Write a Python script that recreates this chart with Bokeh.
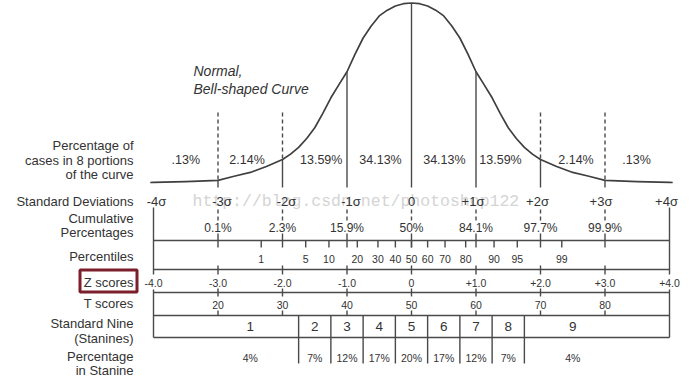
from bokeh.plotting import figure
from bokeh.models import Range1d, ColumnDataSource
from bokeh.core.properties import value
from bokeh.embed import file_html
from bokeh.resources import INLINE

# ---------------- data ----------------
# bell curve: relative height at z
curve_z = [-4.05, -4.0, -3.5, -3.0, -2.75, -2.5, -2.25, -2.0, -1.875, -1.75, -1.625, -1.5,
           -1.375, -1.25, -1.125, -1.0, -0.875, -0.75, -0.625, -0.5, -0.375, -0.25, -0.125,
           0.0,
           0.125, 0.25, 0.375, 0.5, 0.625, 0.75, 0.875, 1.0, 1.125, 1.25, 1.375, 1.5,
           1.625, 1.75, 1.875, 2.0, 2.25, 2.5, 2.75, 3.0, 3.5, 4.0, 4.05]
curve_h = [0.0, 0.001, 0.005, 0.012, 0.035, 0.056, 0.089, 0.128, 0.158, 0.196, 0.245, 0.305,
           0.385, 0.472, 0.545, 0.617, 0.715, 0.805, 0.872, 0.928, 0.960, 0.983, 0.996,
           1.0,
           0.996, 0.983, 0.960, 0.928, 0.872, 0.805, 0.715, 0.617, 0.545, 0.472, 0.385, 0.305,
           0.245, 0.196, 0.158, 0.128, 0.089, 0.056, 0.035, 0.012, 0.005, 0.001, 0.0]

sd_values = [-4, -3, -2, -1, 0, 1, 2, 3, 4]
sd_labels = ["-4σ", "-3σ", "-2σ", "-1σ", "0", "+1σ", "+2σ", "+3σ", "+4σ"]

portion_labels = [".13%", "2.14%", "13.59%", "34.13%", "34.13%", "13.59%", "2.14%", ".13%"]

cum_z = [-3, -2, -1, 0, 1, 2, 3]
cum_labels = ["0.1%", "2.3%", "15.9%", "50%", "84.1%", "97.7%", "99.9%"]

pct_labels = ["1", "5", "10", "20", "30", "40", "50", "60", "70", "80", "90", "95", "99"]
pct_z = [-2.33, -1.64, -1.28, -0.84, -0.52, -0.25, 0.0, 0.25, 0.52, 0.84, 1.28, 1.64, 2.33]

z_labels = ["-4.0", "-3.0", "-2.0", "-1.0", "0", "+1.0", "+2.0", "+3.0", "+4.0"]

t_z = [-3, -2, -1, 0, 1, 2, 3]
t_labels = ["20", "30", "40", "50", "60", "70", "80"]

stanine_edges = [-1.75, -1.25, -0.75, -0.25, 0.25, 0.75, 1.25, 1.75]
stanine_labels = ["1", "2", "3", "4", "5", "6", "7", "8", "9"]
stanine_pct = ["4%", "7%", "12%", "17%", "20%", "17%", "12%", "7%", "4%"]

row_titles = ["Percentage of", "cases in 8 portions", "of the curve", "Standard Deviations",
              "Cumulative", "Percentages", "Percentiles", "Z scores", "T scores",
              "Standard Nine", "(Stanines)", "Percentage", "in Stanine"]

# ---------------- layout (positions / styles) ----------------
portion_x = [-3.5, -2.55, -1.4, -0.48, 0.51, 1.38, 2.55, 3.49]
sd_xoff = [3, 4, 4, 4, 0, -3, -3, -4, -3]
stanine_text_x = [-2.5, -1.5, -1.0, -0.5, 0.0, 0.5, 1.0, 1.5, 2.5]
title_y = [145, 160, 174, 201, 218, 232, 256, 282, 303, 323, 338, 356, 370]
PX = 64.5            # pixels per sigma
X0 = 411             # pixel of z = 0
title_x = (133 - X0) / PX

FONT = value("Liberation Sans")
TXT = "#333333"
LN = "#4a4a4a"
LW = 1.4

base_px, peak_px = 182.0, 2.5
hspan = base_px - peak_px
W, H = 690, 381

p = figure(width=W, height=H,
           x_range=Range1d((0 - X0) / PX, (W - X0) / PX),
           y_range=Range1d(H, 0),
           output_backend="svg", toolbar_location=None, min_border=0,
           x_axis_type=None, y_axis_type=None)
p.grid.visible = False
p.outline_line_color = None
p.extra_y_ranges = {"curve": Range1d((base_px - H) / hspan, (base_px - 0) / hspan)}


def txt(x, y, t, size, align="center", color=TXT, style="normal", font=FONT, xoff=None):
    data = dict(x=x, y=y, t=t)
    kw = {}
    if xoff is not None:
        data["xo"] = xoff
        kw["x_offset"] = "xo"
    src = ColumnDataSource(data)
    p.text("x", "y", text="t", source=src, text_font=font, text_font_size=size,
           text_align=align, text_baseline="middle", text_color=color,
           text_font_style=style, **kw)


# watermark
txt([(192 - X0) / PX], [201], ["http://blog.csdn.net/photoshop122"], "16.5px",
    align="left", color="#d4d4d4", font=value("Liberation Mono"))

# bell curve
p.line(curve_z, curve_h, y_range_name="curve", line_color="#3f3f3f", line_width=1.7,
       line_join="round")
hz = dict(zip(curve_z, curve_h))
bot = (base_px - 187) / hspan
top_dash = (base_px - 112) / hspan
solid_z = [-3, -2, -1, 0, 1, 2, 3]
p.segment(x0=solid_z, x1=solid_z, y0=[hz[z] for z in solid_z], y1=[bot] * len(solid_z),
          y_range_name="curve", line_color=LN, line_width=LW)
dash_z = [-3, -2, 2, 3]
p.segment(x0=dash_z, x1=dash_z, y0=[top_dash] * 4, y1=[hz[z] for z in dash_z],
          y_range_name="curve", line_color=LN, line_width=LW, line_dash="4 3")

# curve portion percentages
txt(portion_x, [159] * 8, portion_labels, "12.5px")
txt([(193 - X0) / PX], [70], ["Normal,"], "14px", align="left", style="italic")
txt([(193 - X0) / PX], [88], ["Bell-shaped Curve"], "14px", align="left", style="italic")

# standard deviation labels
txt(sd_values, [201] * 9, sd_labels, "13px", xoff=sd_xoff)

# cumulative percentages
p.segment(x0=cum_z, x1=cum_z, y0=[209] * 7, y1=[220] * 7, line_color=LN, line_width=LW,
          line_dash="4 3")
p.segment(x0=cum_z, x1=cum_z, y0=[233] * 7, y1=[247] * 7, line_color=LN, line_width=LW)
txt(cum_z, [227] * 7, cum_labels, "12px")

# table frame
hl = [240, 269, 292, 315, 337]
p.segment(x0=[-4] * 5, x1=[4] * 5, y0=hl, y1=hl, line_color=LN, line_width=LW)
p.segment(x0=[-4, -4, 4, 4], x1=[-4, -4, 4, 4], y0=[207, 289, 207, 289],
          y1=[274, 337, 274, 337], line_color=LN, line_width=LW)

# percentiles
p.segment(x0=pct_z, x1=pct_z, y0=[240] * 13, y1=[247] * 13, line_color=LN, line_width=LW)
txt(pct_z, [258] * 13, pct_labels, "10.5px")

# z scores
p.segment(x0=t_z, x1=t_z, y0=[265] * 7, y1=[274] * 7, line_color=LN, line_width=LW)
p.segment(x0=t_z, x1=t_z, y0=[288] * 7, y1=[296] * 7, line_color=LN, line_width=LW)
txt(sd_values, [282] * 9, z_labels, "10.5px")

# t scores
p.segment(x0=t_z, x1=t_z, y0=[310] * 7, y1=[315] * 7, line_color=LN, line_width=LW)
txt(t_z, [304] * 7, t_labels, "10.5px")

# stanines
p.segment(x0=stanine_edges, x1=stanine_edges, y0=[315] * 8, y1=[363] * 8,
          line_color=LN, line_width=LW)
txt(stanine_text_x, [326] * 9, stanine_labels, "13.5px")
txt(stanine_text_x, [357] * 9, stanine_pct, "10.5px")

# row titles
txt([title_x] * len(row_titles), title_y, row_titles, "13px", align="right")

# highlight box round "Z scores"
p.rect(x=[(108 - X0) / PX], y=[280.5], width=[57 / PX], height=[22], fill_color=None,
       line_color="#7a1f2b", line_width=3)

open("out.html", "w").write(file_html(p, INLINE))
